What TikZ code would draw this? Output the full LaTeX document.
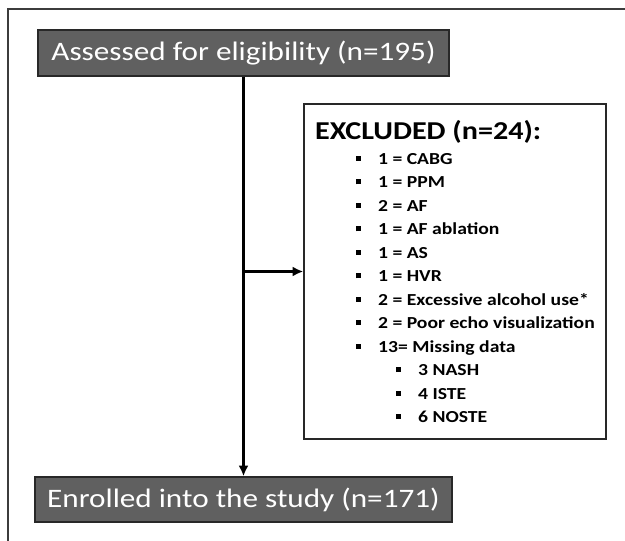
\documentclass[tikz,border=0pt]{standalone}
\usepackage{fontspec}
\setmainfont{Carlito}[FakeStretch=1.17]
\usepackage{tikz}
\usetikzlibrary{arrows.meta,positioning}
\definecolor{boxgray}{RGB}{96,96,96}
\definecolor{boxedge}{RGB}{40,40,40}
\definecolor{framegray}{RGB}{60,60,60}
\newcommand{\exbul}{\rule[2.6pt]{3.75pt}{3.75pt}}
\newcommand{\exitem}[1]{\hspace*{30.75pt}\exbul\hspace{12.75pt}#1}
\newcommand{\exsub}[1]{\hspace*{60.75pt}\exbul\hspace{12.75pt}#1}

\begin{document}
\begin{tikzpicture}[
  x=0.75pt, y=-0.75pt,
  stage/.style={
    draw=boxedge,
    line width=1.1pt,
    fill=boxgray,
    text=white,
    inner sep=0pt,
    font=\fontsize{20}{24}\selectfont
  },
  exclbox/.style={
    draw=boxedge,
    line width=1.1pt,
    fill=white,
    align=left,
    inner sep=0pt,
    minimum width=226.5pt,
    minimum height=251.25pt,
    font=\bfseries\fontsize{12.6}{17.6}\selectfont
  },
  arrow/.style={-{Latex[length=8pt,width=7.5pt]},line width=2.2pt,draw=black}
]
\useasboundingbox (0,0) rectangle (625,541);
\draw[line width=1.6pt, draw=framegray] (8,541) |- (625,9);
\node[stage, minimum width=308.25pt, minimum height=34.5pt] (assess) at (243.5,53) {Assessed for eligibility (n=195)};
\node[stage, minimum width=312.75pt, minimum height=33.75pt] (enrol) at (243.5,499.5) {Enrolled into the study (n=171)};
\node[exclbox] (excl) at (455,271.5) {{\fontsize{19.3}{23}\selectfont EXCLUDED (n=24):}\\[1.15pt]
\exitem{1 = CABG}\\
\exitem{1 = PPM}\\
\exitem{2 = AF}\\
\exitem{1 = AF ablation}\\
\exitem{1 = AS}\\
\exitem{1 = HVR}\\
\exitem{2 = Excessive alcohol use*}\\
\exitem{2 = Poor echo visualization}\\
\exitem{13= Missing data}\\
\exsub{3 NASH}\\
\exsub{4 ISTE}\\
\exsub{6 NOSTE}};
\draw[arrow] (assess.south) -- (enrol.north);
\draw[arrow] (excl.west -| assess.south) -- (excl.west);
\end{tikzpicture}
\end{document}
